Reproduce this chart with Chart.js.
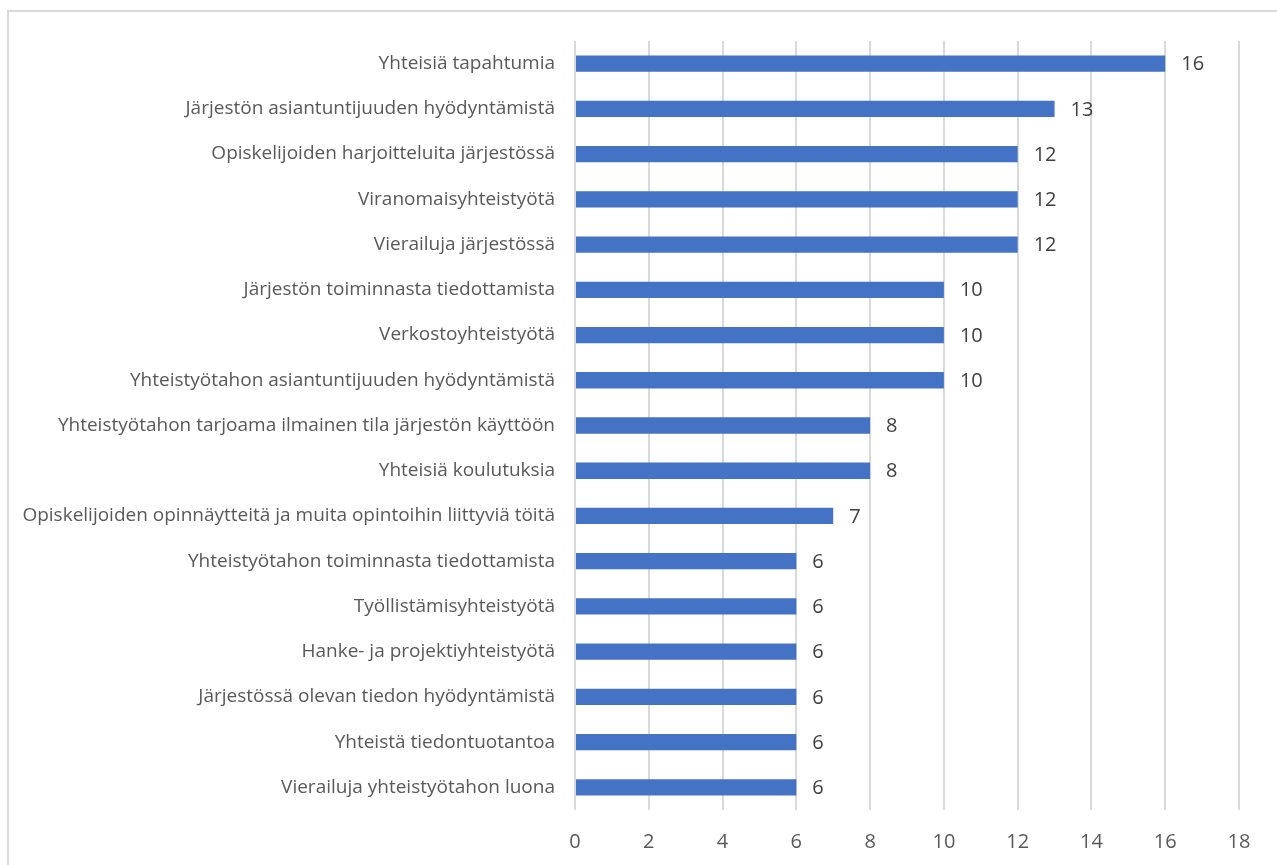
<!DOCTYPE html>
<html>
<head>
<meta charset="utf-8">
<script src="https://cdn.jsdelivr.net/npm/chart.js@4"></script>
<style>
    html, body { margin: 0; padding: 0; background: #fff; }
    #wrap { position: relative; width: 1277px; height: 865px; overflow: hidden; }
    #frame { position: absolute; left: 7px; top: 10px; width: 1290px; height: 900px; border: 2px solid #d9d9d9; box-sizing: border-box; }
    canvas { position: absolute; left: 0; top: 0; }
</style>
</head>
<body>
<div id="wrap">
    <div id="frame"></div>
    <canvas id="chart" width="1277" height="865"></canvas>
</div>
<script>
const categories = [
    'Yhteisiä tapahtumia',
    'Järjestön asiantuntijuuden hyödyntämistä',
    'Opiskelijoiden harjoitteluita järjestössä',
    'Viranomaisyhteistyötä',
    'Vierailuja järjestössä',
    'Järjestön toiminnasta tiedottamista',
    'Verkostoyhteistyötä',
    'Yhteistyötahon asiantuntijuuden hyödyntämistä',
    'Yhteistyötahon tarjoama ilmainen tila järjestön käyttöön',
    'Yhteisiä koulutuksia',
    'Opiskelijoiden opinnäytteitä ja muita opintoihin liittyviä töitä',
    'Yhteistyötahon toiminnasta tiedottamista',
    'Työllistämisyhteistyötä',
    'Hanke- ja projektiyhteistyötä',
    'Järjestössä olevan tiedon hyödyntämistä',
    'Yhteistä tiedontuotantoa',
    'Vierailuja yhteistyötahon luona'
];
const counts = [16, 13, 12, 12, 12, 10, 10, 10, 8, 8, 7, 6, 6, 6, 6, 6, 6];
const xMin = 0;
const xMax = 18;
const xStep = 2;

const FONT = '"Open Sans", sans-serif';

// Arvot palkkien perään
const valueLabels = {
    id: 'valueLabels',
    afterDatasetsDraw(chart) {
        const ctx = chart.ctx;
        const meta = chart.getDatasetMeta(0);
        ctx.save();
        ctx.font = '20px ' + FONT;
        ctx.fillStyle = '#404040';
        ctx.textAlign = 'left';
        ctx.textBaseline = 'middle';
        meta.data.forEach((bar, i) => {
            ctx.fillText(String(counts[i]), bar.x + 16, bar.y + 1);
        });
        ctx.restore();
    }
};

const ctx = document.getElementById('chart').getContext('2d');
new Chart(ctx, {
    type: 'bar',
    data: {
        labels: categories,
        datasets: [{
            data: counts,
            backgroundColor: '#4472c4',
            barPercentage: 0.36,
            categoryPercentage: 1.0
        }]
    },
    options: {
        indexAxis: 'y',
        responsive: false,
        animation: false,
        layout: { padding: { top: 41, right: 38, bottom: 0, left: 0 } },
        plugins: {
            legend: { display: false },
            tooltip: { enabled: false }
        },
        scales: {
            x: {
                min: xMin,
                max: xMax,
                ticks: {
                    stepSize: xStep,
                    color: '#595959',
                    font: { family: FONT, size: 20 },
                    padding: 20
                },
                grid: { color: '#d9d9d9', lineWidth: 2, drawTicks: false },
                border: { display: false },
                afterFit(scale) { scale.height = 55; }
            },
            y: {
                ticks: {
                    color: '#595959',
                    font: { family: FONT, size: 19 },
                    padding: 12,
                    autoSkip: false
                },
                grid: { display: false },
                border: { display: false },
                afterFit(scale) { scale.width = 575; }
            }
        }
    },
    plugins: [valueLabels]
});
</script>
</body>
</html>
